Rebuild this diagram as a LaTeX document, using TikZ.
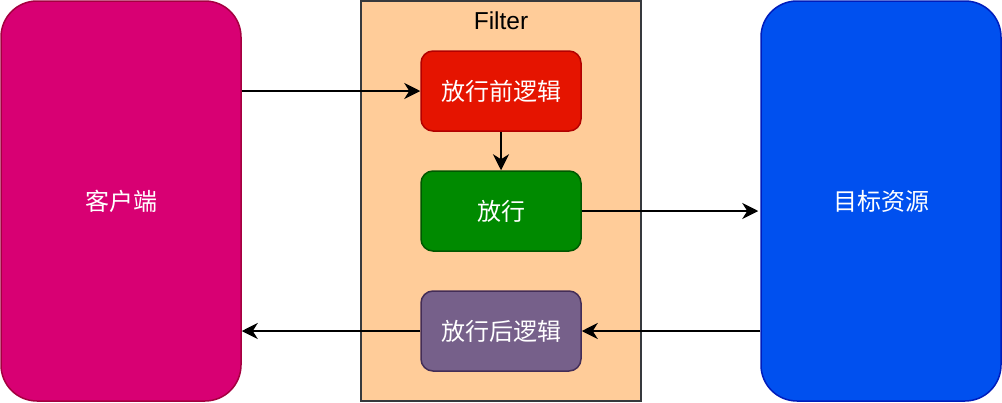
\documentclass[tikz,border=0pt]{standalone}
\usepackage{fontspec}
\setmainfont{Liberation Sans}
\newfontfamily\cjk{Noto Sans CJK SC}
\usetikzlibrary{arrows.meta}
\definecolor{clientfill}{HTML}{D80073}
\definecolor{clientline}{HTML}{A50040}
\definecolor{filterfill}{HTML}{FFCC99}
\definecolor{filterline}{HTML}{36393D}
\definecolor{redfill}{HTML}{E51400}
\definecolor{redline}{HTML}{B20000}
\definecolor{greenfill}{HTML}{008A00}
\definecolor{greenline}{HTML}{005700}
\definecolor{purplefill}{HTML}{76608A}
\definecolor{purpleline}{HTML}{432D57}
\definecolor{bluefill}{HTML}{0050EF}
\definecolor{blueline}{HTML}{001DBC}
\begin{document}
\begin{tikzpicture}[x=1pt,y=-1pt,
  bigbox/.style={draw,line width=1.5pt,rounded corners=36pt,minimum width=240pt,minimum height=400pt,inner sep=0pt,text=white,font=\cjk\fontsize{24}{28}\selectfont},
  smallbox/.style={draw,line width=1.5pt,rounded corners=12pt,minimum width=160pt,minimum height=80pt,inner sep=0pt,text=white,font=\cjk\fontsize{24}{28}\selectfont},
  conn/.style={line width=2pt,-{Stealth[length=16pt,width=16pt,inset=5pt]}}]
\useasboundingbox (0,0) rectangle (1002,402);
\node[draw=filterline,fill=filterfill,line width=1.5pt,minimum width=280pt,minimum height=400pt,inner sep=0pt] (filter) at (501,201) {};
\node[font=\fontsize{24.5}{28}\selectfont] (filterlabel) at (501,21) {Filter};
\node[bigbox,fill=clientfill,draw=clientline] (client) at (121,201) {客户端};
\node[bigbox,fill=bluefill,draw=blueline] (target) at (881,201) {目标资源};
\node[smallbox,fill=redfill,draw=redline] (pre) at (501,91) {放行前逻辑};
\node[smallbox,fill=greenfill,draw=greenline] (pass) at (501,211) {放行};
\node[smallbox,fill=purplefill,draw=purpleline] (post) at (501,331) {放行后逻辑};
\draw[conn] (client.east |- pre.west) -- (pre.west);
\draw[conn] (pre.south) -- (pass.north);
\draw[conn] (pass.east) -- ([xshift=-2pt]target.west |- pass.east);
\draw[conn] (target.west |- post.east) -- (post.east);
\draw[conn] (post.west) -- (client.east |- post.west);
\end{tikzpicture}
\end{document}
